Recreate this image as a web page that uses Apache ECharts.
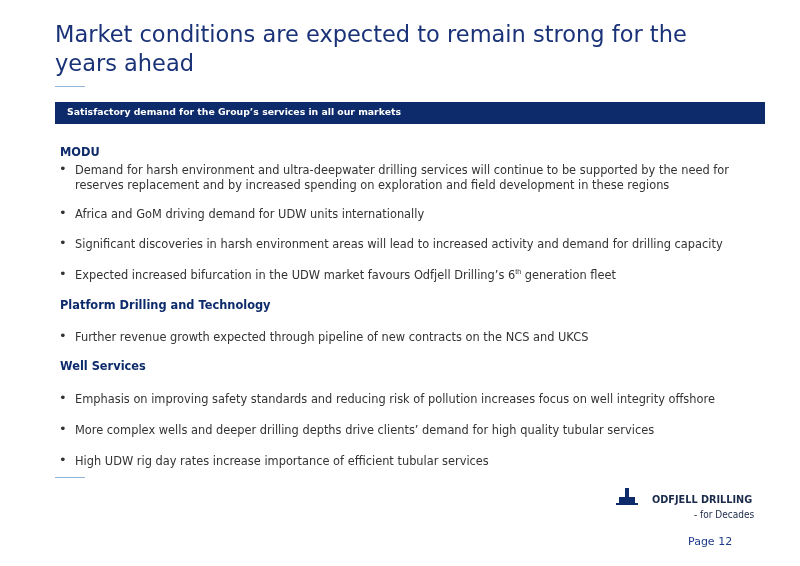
<!DOCTYPE html>
<html><head><meta charset="utf-8">
<script src="https://cdn.jsdelivr.net/npm/echarts@6/dist/echarts.min.js"></script>
<style>html,body{margin:0;padding:0;background:#fff}#c{width:800px;height:566px}</style>
</head><body><div id="c"></div>
<script>
const titleLines = ["Market conditions are expected to remain strong for the", "years ahead"];
const bannerText = "Satisfactory demand for the Group’s services in all our markets";
const sections = ["MODU", "Platform Drilling and Technology", "Well Services"];
const sectionY = [155, 308, 369];
const bullets = [
  "Demand for harsh environment and ultra-deepwater drilling services will continue to be supported by the need for\nreserves replacement and by increased spending on exploration and field development in these regions",
  "Africa and GoM driving demand for UDW units internationally",
  "Significant discoveries in harsh environment areas will lead to increased activity and demand for drilling capacity",
  "Expected increased bifurcation in the UDW market favours Odfjell Drilling’s 6{sup|th} generation fleet",
  "Further revenue growth expected through pipeline of new contracts on the NCS and UKCS",
  "Emphasis on improving safety standards and reducing risk of pollution increases focus on well integrity offshore",
  "More complex wells and deeper drilling depths drive clients’ demand for high quality tubular services",
  "High UDW rig day rates increase importance of efficient tubular services"
];
const bulletY = [171, 215, 245, 276, 338, 400, 431, 462];
const pageLabel = "Page 12";

const navy = "#0d2b6b", tcol = "#333333";
const g = [];
g.push({type:'text', left:55, top:22, style:{text:titleLines.join("\n"), font:'22.5px "DejaVu Sans"', lineHeight:29, fill:'#1a3378'}});
g.push({type:'rect', shape:{x:55,y:86,width:30,height:1}, style:{fill:'#8fb4d9'}});
g.push({type:'rect', shape:{x:55,y:102,width:710,height:22}, style:{fill:navy}});
g.push({type:'text', left:67, top:108, style:{text:bannerText, font:'bold 9.3px "DejaVu Sans"', fill:'#fff'}});
sections.forEach((s,i)=>g.push({type:'text', left:60, top:sectionY[i]-7, style:{text:s, font:'bold 11.4px "DejaVu Sans"', fill:navy}}));
bullets.forEach((b,i)=>{
  g.push({type:'text', left:59, top:bulletY[i]-8, style:{text:'•', font:'13px "DejaVu Sans"', fill:tcol}});
  g.push({type:'text', left:75, top:bulletY[i]-7, style:{text:b, font:'11.4px "DejaVu Sans"', lineHeight:14.5, fill:tcol,
    rich:{sup:{fontSize:7, verticalAlign:'top', fill:tcol, padding:[0,0,6,0]}}}});
});
g.push({type:'rect', shape:{x:55,y:477,width:30,height:1}, style:{fill:'#8fb4d9'}});
// logo
g.push({type:'rect', shape:{x:619,y:497,width:16,height:6}, style:{fill:navy}});
g.push({type:'rect', shape:{x:625,y:488,width:4,height:10}, style:{fill:navy}});
g.push({type:'rect', shape:{x:616,y:503,width:22,height:2}, style:{fill:navy}});
g.push({type:'text', left:652, top:495, style:{text:'ODFJELL DRILLING', font:'bold 10.8px "DejaVu Sans Condensed"', fill:'#1a2a4a'}});
g.push({type:'text', left:694, top:510, style:{text:'- for Decades', font:'10px "DejaVu Sans Condensed"', fill:'#1a2a4a'}});
g.push({type:'text', left:688, top:537, style:{text:pageLabel, font:'11px "DejaVu Sans"', fill:'#1d3a8a'}});

echarts.init(document.getElementById('c')).setOption({animation:false, graphic:g});
</script></body></html>
